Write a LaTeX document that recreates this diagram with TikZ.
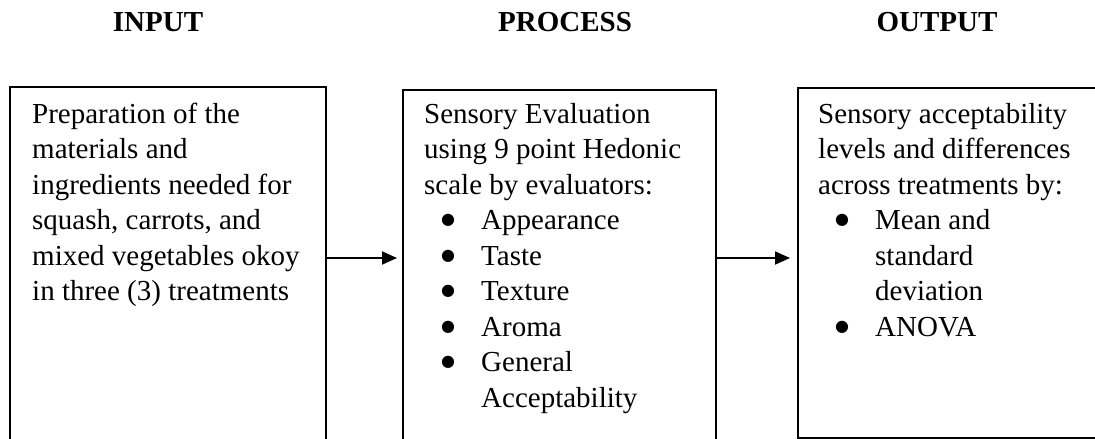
\documentclass[tikz,border=0pt]{standalone}
\usepackage{fontspec}
\setmainfont{Liberation Serif}
\newfontfamily\symfont{DejaVu Sans}
\usetikzlibrary{arrows.meta}
% bullet item and continuation indent for the lists inside the boxes
\newcommand\bitem{\makebox[57pt][l]{\hspace{17pt}\raisebox{5pt}{\symfont\fontsize{16}{16}\selectfont ●}}}
\newcommand\bcont{\hspace*{57pt}}
\begin{document}
\begin{tikzpicture}[x=1pt,y=-1pt,
  frame/.style={draw, line width=1.8pt, inner sep=0pt, anchor=north west},
  head/.style={font=\fontsize{29}{35.5}\selectfont\bfseries, inner sep=0pt, anchor=base},
  body/.style={font=\fontsize{29}{35.5}\selectfont, inner sep=0pt, anchor=base west},
  flow/.style={line width=1.8pt, -{Triangle[length=15pt,width=13pt]}}]
\useasboundingbox (0,0) rectangle (1095,439);
\clip (0,0) rectangle (1095,439);

% column headings
\node[head] (hin)  at (158,31) {INPUT};
\node[head] (hpr)  at (565,31) {PROCESS};
\node[head] (hout) at (937,31) {OUTPUT};

% the three frames
\node[frame, minimum width=316pt, minimum height=360pt] (b1) at (9,86) {};
\node[frame, minimum width=313pt, minimum height=360pt] (b2) at (402,89) {};
\node[frame, minimum width=305pt, minimum height=350pt] (b3) at (797,87) {};

% frame contents
\node[body] (t1) at (32,123) {\parbox[t]{290pt}{\raggedright
  Preparation of the\\
  materials and\\
  ingredients needed for\\
  squash, carrots, and\\
  mixed vegetables okoy\\
  in three (3) treatments}};
\node[body] (t2) at (424,123) {\parbox[t]{290pt}{\raggedright
  Sensory Evaluation\\
  using 9 point Hedonic\\
  scale by evaluators:\\
  \bitem Appearance\\
  \bitem Taste\\
  \bitem Texture\\
  \bitem Aroma\\
  \bitem General\\
  \bcont Acceptability}};
\node[body] (t3) at (818,123) {\parbox[t]{290pt}{\raggedright
  Sensory acceptability\\
  levels and differences\\
  across treatments by:\\
  \bitem Mean and\\
  \bcont standard\\
  \bcont deviation\\
  \bitem ANOVA}};

% connectors
\draw[flow] ([yshift=-172pt]b1.north east) -- ([xshift=-5pt,yshift=-169pt]b2.north west);
\draw[flow] ([yshift=-169pt]b2.north east) -- ([xshift=-7pt,yshift=-171pt]b3.north west);
\end{tikzpicture}
\end{document}
